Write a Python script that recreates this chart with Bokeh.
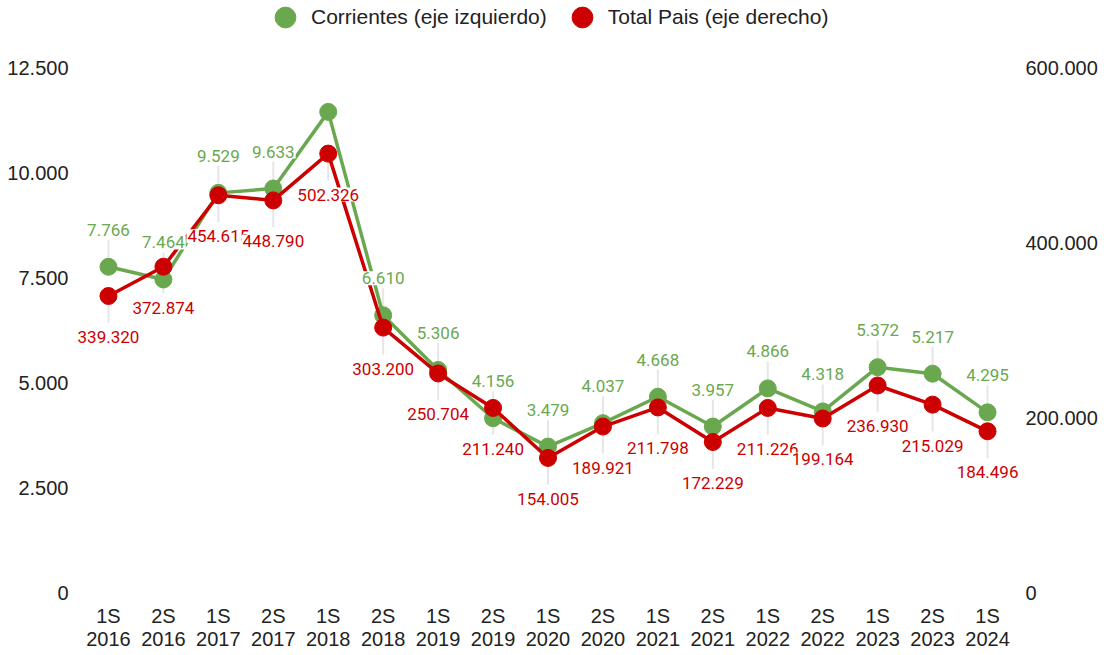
from bokeh.plotting import figure
from bokeh.models import (ColumnDataSource, Range1d, LinearAxis, FixedTicker,
                          Legend, LegendItem, FactorRange)
from bokeh.embed import file_html
from bokeh.resources import INLINE
from bokeh.core.properties import value

# ---------------- data ----------------
periods = ["1S\n2016", "2S\n2016", "1S\n2017", "2S\n2017", "1S\n2018", "2S\n2018",
           "1S\n2019", "2S\n2019", "1S\n2020", "2S\n2020", "1S\n2021", "2S\n2021",
           "1S\n2022", "2S\n2022", "1S\n2023", "2S\n2023", "1S\n2024"]
corrientes = [7766, 7464, 9529, 9633, 11460, 6610, 5306, 4156, 3479, 4037,
              4668, 3957, 4866, 4318, 5372, 5217, 4295]
corrientes_labels = ["7.766", "7.464", "9.529", "9.633", "", "6.610", "5.306", "4.156",
                     "3.479", "4.037", "4.668", "3.957", "4.866", "4.318", "5.372",
                     "5.217", "4.295"]
total_pais = [339320, 372874, 454615, 448790, 502326, 303200, 250704, 211240,
              154005, 189921, 211798, 172229, 211226, 199164, 236930, 215029, 184496]
total_pais_labels = ["339.320", "372.874", "454.615", "448.790", "502.326", "303.200",
                     "250.704", "211.240", "154.005", "189.921", "211.798", "172.229",
                     "211.226", "199.164", "236.930", "215.029", "184.496"]
left_ticks = [0, 2500, 5000, 7500, 10000, 12500]
right_ticks = [0, 200000, 400000, 600000]

GREEN = "#6aa84f"
RED = "#cc0000"
LEFT_MAX = 12500
RIGHT_MAX = 600000


def fmt(v):
    return f"{v:,}".replace(",", ".")


W, H = 1100, 652
MB_L, MB_R, MB_T, MB_B = 75, 80, 0, 58
frame_h = H - MB_T - MB_B          # frame runs up to the top of the figure
TOP_GAP = 68                       # pixels between figure top and the 12.500 line
axis_px = frame_h - TOP_GAP
left_end = LEFT_MAX * frame_h / axis_px
right_end = RIGHT_MAX * frame_h / axis_px

p = figure(x_range=FactorRange(factors=periods, range_padding=0.1,
                               range_padding_units="absolute"),
           y_range=Range1d(0, left_end),
           width=W, height=H, output_backend="svg", toolbar_location=None,
           min_border_left=MB_L, min_border_right=MB_R,
           min_border_top=MB_T, min_border_bottom=MB_B)
p.extra_y_ranges = {"right": Range1d(0, right_end)}
p.outline_line_color = None
p.grid.visible = False
p.background_fill_color = "white"
p.border_fill_color = "white"

# axes
for ax in [p.xaxis[0], p.yaxis[0]]:
    ax.axis_line_color = None
    ax.major_tick_line_color = None
    ax.minor_tick_line_color = None
    ax.major_tick_out = 0
    ax.major_tick_in = 0
    ax.major_label_text_font = "Liberation Sans"
    ax.major_label_text_font_size = "20px"
    ax.major_label_text_color = "#222222"

p.xaxis.major_label_standoff = 12
p.xaxis.major_label_text_line_height = 1.05
p.yaxis.ticker = FixedTicker(ticks=left_ticks)
p.yaxis.major_label_overrides = {t: fmt(t) for t in left_ticks}
p.yaxis.major_label_standoff = 7

raxis = LinearAxis(y_range_name="right", ticker=FixedTicker(ticks=right_ticks),
                   major_label_overrides={t: fmt(t) for t in right_ticks})
raxis.axis_line_color = None
raxis.major_tick_line_color = None
raxis.minor_tick_line_color = None
raxis.major_tick_out = 0
raxis.major_tick_in = 0
raxis.major_label_standoff = 5
raxis.major_label_text_font = "Liberation Sans"
raxis.major_label_text_font_size = "20px"
raxis.major_label_text_color = "#222222"
p.add_layout(raxis, "right")

# leader lines
lpp = LEFT_MAX / axis_px
rpp = RIGHT_MAX / axis_px
g_idx = [i for i, s in enumerate(corrientes_labels) if s]
r_idx = [i for i, s in enumerate(total_pais_labels) if s]
gsrc = ColumnDataSource(dict(
    x=[periods[i] for i in g_idx],
    y=[corrientes[i] for i in g_idx],
    y1=[corrientes[i] + 27 * lpp for i in g_idx],
    t=[corrientes_labels[i] for i in g_idx]))
rsrc = ColumnDataSource(dict(
    x=[periods[i] for i in r_idx],
    y=[total_pais[i] for i in r_idx],
    y1=[total_pais[i] - 27 * rpp for i in r_idx],
    t=[total_pais_labels[i] for i in r_idx]))

p.segment(x0="x", y0="y", x1="x", y1="y1", source=gsrc, line_color="#e6e6e6", line_width=2)
p.segment(x0="x", y0="y", x1="x", y1="y1", source=rsrc, line_color="#e6e6e6", line_width=2,
          y_range_name="right")

# series
p.line(periods, corrientes, line_color=GREEN, line_width=3.5)
g_dots = p.scatter(periods, corrientes, size=17, fill_color=GREEN, line_color=GREEN)
p.line(periods, total_pais, line_color=RED, line_width=3.5, y_range_name="right")
r_dots = p.scatter(periods, total_pais, size=17, fill_color=RED, line_color=RED,
                   y_range_name="right")

# data labels (white box behind, like a halo)
p.text(x="x", y="y", text="t", source=gsrc, y_offset=-37, text_align="center",
       text_baseline="middle", text_font=value("Roboto"), text_font_size="17px",
       text_color=GREEN, background_fill_color="white", padding=1)
p.text(x="x", y="y", text="t", source=rsrc, y_offset=41, text_align="center",
       text_baseline="middle", text_font=value("Roboto"), text_font_size="17px",
       text_color=RED, y_range_name="right", background_fill_color="white", padding=1)

# legend (centred 19 px below the top of the figure)
legend = Legend(items=[LegendItem(label="Corrientes (eje izquierdo)", renderers=[g_dots]),
                       LegendItem(label="Total Pais (eje derecho)", renderers=[r_dots])],
                orientation="horizontal", location=(184, frame_h - 45),
                glyph_width=52, glyph_height=52, label_standoff=0, spacing=9,
                padding=0, margin=0, border_line_color=None, background_fill_alpha=0,
                label_text_font="Liberation Sans", label_text_font_size="21px",
                label_text_color="#222222", label_text_baseline="middle")
p.add_layout(legend, "center")

open("out.html", "w").write(file_html(p, INLINE))
